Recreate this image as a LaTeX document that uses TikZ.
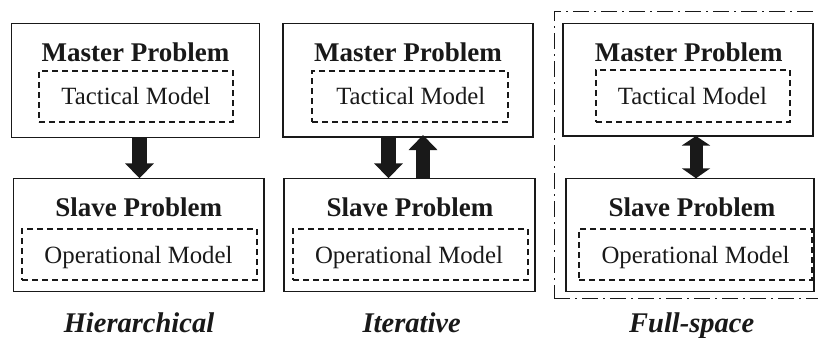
\documentclass[tikz,border=0pt]{standalone}
\usepackage{fontspec}
\setmainfont{Liberation Serif}
\usetikzlibrary{arrows.meta}
\definecolor{ink}{gray}{0.1}
\tikzset{
  solidbox/.style={draw=ink, line width=1.4pt, inner sep=0pt, outer sep=0pt},
  dashbox/.style={draw=ink, line width=1.2pt, dash pattern=on 6pt off 4pt, inner sep=0pt, outer sep=0pt},
  title/.style={anchor=base, inner sep=0pt, text=ink, font=\fontsize{27}{30}\selectfont\bfseries},
  model/.style={anchor=base, inner sep=0pt, text=ink, font=\fontsize{24.8}{28}\selectfont},
  caption/.style={anchor=base, inner sep=0pt, text=ink, font=\fontsize{28.5}{32}\selectfont\bfseries\itshape},
  blockarrow/.style={draw=ink, line width=14.5pt, -{Triangle[width=28pt,length=15pt,fill=ink]}},
  dblarrow/.style={draw=ink, line width=13pt, {Triangle[width=28pt,length=9.5pt,fill=ink]}-{Triangle[width=28pt,length=10pt,fill=ink]}},
  outerbox/.style={draw=ink, line width=1.2pt, dash pattern=on 16pt off 5pt on 2pt off 5pt}
}
\begin{document}
\begin{tikzpicture}[x=1pt,y=-1pt]
\useasboundingbox (0,0) rectangle (818,337);
\clip (0,0) rectangle (818,337);
\fill[white] (0,0) rectangle (818,337);

% ---------- Hierarchical ----------
\node[solidbox, minimum width=247.6pt, minimum height=114pt] (m1) at (135.5,80.3) {};
\node[title] (m1t) at (135.5,61.5) {Master Problem};
\node[dashbox, minimum width=194pt, minimum height=51pt] (t1) at (136,96.5) {};
\node[model] (t1t) at (136,104) {Tactical Model};
\node[solidbox, minimum width=250.7pt, minimum height=113.4pt] (s1) at (138.65,235) {};
\node[title] (s1t) at (138.7,216) {Slave Problem};
\node[dashbox, minimum width=235pt, minimum height=51pt] (o1) at (139.5,254.5) {};
\node[model] (o1t) at (138.5,263) {Operational Model};
\node[caption] (c1) at (139,332) {Hierarchical};
\draw[blockarrow] (139.5,0 |- m1.south) -- (139.5,0 |- s1.north);

% ---------- Iterative ----------
\node[solidbox, minimum width=250pt, minimum height=113.7pt] (m2) at (408,80.15) {};
\node[title] (m2t) at (408,61.5) {Master Problem};
\node[dashbox, minimum width=196pt, minimum height=51pt] (t2) at (410,96.5) {};
\node[model] (t2t) at (410.8,104) {Tactical Model};
\node[solidbox, minimum width=251pt, minimum height=113.4pt] (s2) at (409.5,235) {};
\node[title] (s2t) at (410,216) {Slave Problem};
\node[dashbox, minimum width=235pt, minimum height=51pt] (o2) at (410.5,254.5) {};
\node[model] (o2t) at (409,263) {Operational Model};
\node[caption] (c2) at (411.7,332) {Iterative};
\draw[blockarrow] (388.5,0 |- m2.south) -- (388.5,0 |- s2.north);
\coordinate (up2) at (423,135);
\draw[blockarrow] (423,0 |- s2.north) -- (up2);

% ---------- Full-space ----------
\node[outerbox, minimum width=280pt, minimum height=286.6pt, inner sep=0pt] (f3) at (694.3,155) {};
\node[solidbox, minimum width=250pt, minimum height=112.7pt] (m3) at (688,79.65) {};
\node[title] (m3t) at (688.8,61.5) {Master Problem};
\node[dashbox, minimum width=194pt, minimum height=52pt] (t3) at (693,96) {};
\node[model] (t3t) at (692.5,104) {Tactical Model};
\node[solidbox, minimum width=248pt, minimum height=113.4pt] (s3) at (690,235) {};
\node[title] (s3t) at (692,216) {Slave Problem};
\node[dashbox, minimum width=233pt, minimum height=51pt] (o3) at (695.5,254.5) {};
\node[model] (o3t) at (695.5,263) {Operational Model};
\node[caption] (c3) at (691.7,332) {Full-space};
\draw[dblarrow] (696,0 |- m3.south) -- (696,0 |- s3.north);
\end{tikzpicture}
\end{document}
